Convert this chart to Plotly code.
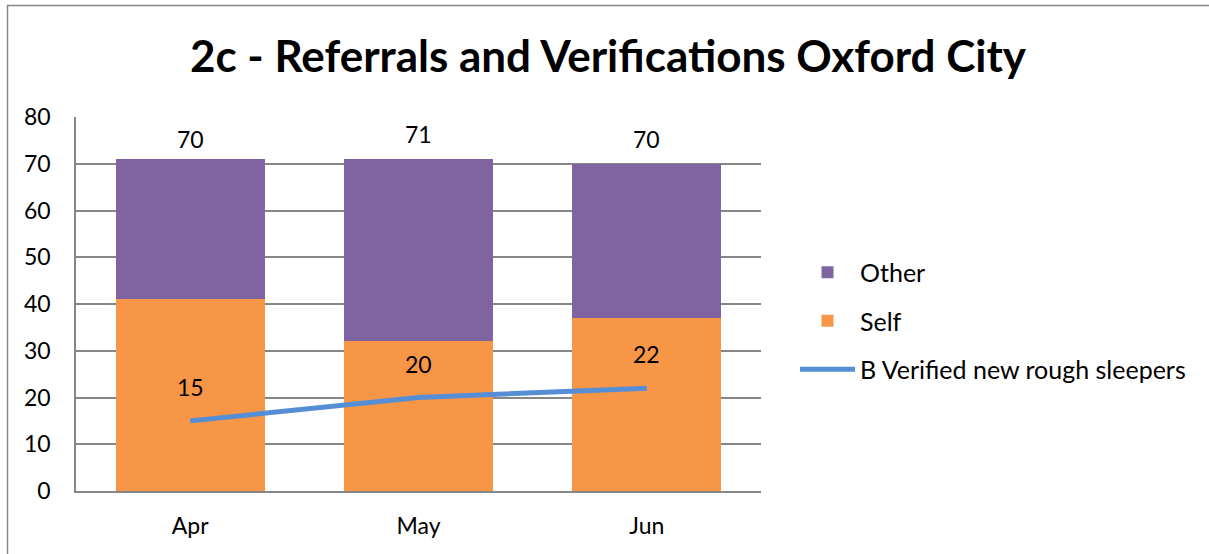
import plotly.graph_objects as go

months = ["Apr", "May", "Jun"]
self_vals = [41, 32, 37]
other_vals = [30, 39, 33]
total_labels = [70, 71, 70]
verified = [15, 20, 22]
y_ticks = [0, 10, 20, 30, 40, 50, 60, 70, 80]

W, H = 1209, 554
# plot area in page coordinates
PX0, PX1, PY0, PY1 = 76, 761, 117, 491
ML, MT, MR, MB = PX0, PY0, W - PX1, H - PY1
FONT = "Lato"

fig = go.Figure()
fig.add_trace(go.Bar(x=months, y=self_vals, name="Self", marker=dict(color="#F79646", line=dict(width=0)),
                     legendrank=2, legendgroup="b"))
fig.add_trace(go.Bar(x=months, y=other_vals, name="Other", marker=dict(color="#8064A2", line=dict(width=0)),
                     legendrank=1, legendgroup="a"))
fig.add_trace(go.Scatter(x=months, y=verified, name="B Verified new rough sleepers", mode="lines",
                         line=dict(color="#558ED5", width=5), legendrank=3, legendgroup="c"))

for m, t in zip(months, total_labels):
    fig.add_annotation(x=m, y=t, text=str(t), showarrow=False, yshift=25,
                       font=dict(family=FONT, size=23, color="#000"))
for m, v in zip(months, verified):
    fig.add_annotation(x=m, y=v, text=str(v), showarrow=False, yshift=34,
                       font=dict(family=FONT, size=23, color="#000"))

ph = H - MT - MB
pw = W - ML - MR
fig.add_shape(type="rect", xref="paper", yref="paper",
              x0=(7.5 - PX0) / pw, x1=(1240 - PX0) / pw,
              y0=(PY1 - 620) / ph, y1=(PY1 - 5.5) / ph,
              line=dict(color="#868686", width=1.5), fillcolor="rgba(0,0,0,0)", layer="below")

fig.update_layout(
    width=W, height=H,
    barmode="stack", bargap=0.347,
    plot_bgcolor="white", paper_bgcolor="white",
    margin=dict(l=ML, r=MR, t=MT, b=MB),
    font=dict(family=FONT, size=23, color="#000"),
    title=dict(text="<b>2c - Referrals and Verifications Oxford City</b>", x=608 / W, xanchor="center",
               y=1 - 57 / H, yanchor="middle", font=dict(family=FONT, size=44, color="#000")),
    legend=dict(xref="container", yref="container", x=795 / W, y=1 - 321 / H,
                xanchor="left", yanchor="middle",
                font=dict(family=FONT, size=25, color="#000"), tracegroupgap=13, traceorder="grouped",
                itemwidth=55, bgcolor="rgba(0,0,0,0)"),
    showlegend=True,
)
fig.update_xaxes(showgrid=False, showline=True, linecolor="#868686", linewidth=1.5,
                 ticks="", ticklabelstandoff=14, tickfont=dict(family=FONT, size=23))
fig.update_yaxes(range=[0, 80], tickvals=y_ticks, showgrid=True, gridcolor="#868686", gridwidth=1.5,
                 showline=True, linecolor="#868686", linewidth=1.5, zeroline=False,
                 ticks="", ticklabelstandoff=19, tickfont=dict(family=FONT, size=23))
fig.write_html("out.html", config={"displayModeBar": False},
               post_script="document.body.style.margin='0';")
